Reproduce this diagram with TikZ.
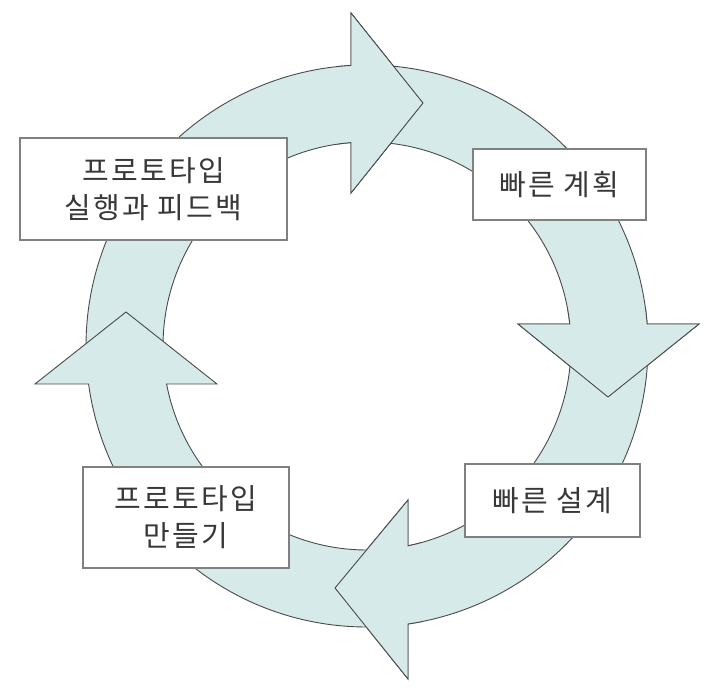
\documentclass[tikz,border=0pt]{standalone}
\usepackage{fontspec}
\newfontfamily\kr[LetterSpace=8]{Noto Sans CJK KR}
\definecolor{ringfill}{HTML}{D6EAEA}
\definecolor{ringline}{HTML}{4A4A4A}
\definecolor{boxline}{HTML}{808080}
\definecolor{txt}{HTML}{383838}
\newcommand\arrowA{(185:281pt) arc[start angle=185, end angle=93.26, radius=281pt] -- (-16,333) -- (56,243) -- (-16,153) -- (-16,203.4) arc[start angle=94.5, end angle=185, radius=204pt] -- cycle}
\newcommand\arrowB{(89:281pt) arc[start angle=89, end angle=4.49, radius=281pt] -- (332,22) -- (241,-51) -- (151,22) -- (202.8,22) arc[start angle=6.19, end angle=89, radius=204pt] -- cycle}
\newcommand\arrowC{(0:281pt) arc[start angle=0, end angle=-81.61, radius=281pt] -- (41,-333) -- (-32,-242) -- (41,-154) -- (41,-199.8) arc[start angle=-78.40, end angle=0, radius=204pt] -- cycle}
\newcommand\arrowD{(-87:281pt) arc[start angle=-87, end angle=-172.23, radius=281pt] -- (-332,-38) -- (-241,34) -- (-150,-38) -- (-200.4,-38) arc[start angle=-169.26, end angle=-87, radius=204pt] -- cycle}
\begin{document}
\begin{tikzpicture}[x=1pt,y=1pt,
  ring/.style={fill=ringfill, draw=ringline, line width=0.9pt, line join=miter},
  labelbox/.style={draw=boxline, fill=white, line width=1.3pt, text=txt,
    font=\kr\fontsize{29}{37}\selectfont, align=center, inner sep=0pt}]
\useasboundingbox (0,0) rectangle (712,696);
\begin{scope}[shift={(367,350)}]
  \draw[ring] \arrowA;
  \draw[ring] \arrowB;
  \draw[ring] \arrowC;
  \draw[ring] \arrowD;
  \begin{scope}
    \clip (-30,140) rectangle (72,347);
    \draw[ring] \arrowA;
  \end{scope}
  \begin{scope}
    \clip (140,-62) rectangle (346,36);
    \draw[ring] \arrowB;
  \end{scope}
  \begin{scope}
    \clip (-46,-347) rectangle (55,-140);
    \draw[ring] \arrowC;
  \end{scope}
\end{scope}
\node[labelbox, minimum width=173pt, minimum height=71pt] (plan) at (559.5,511.5) {빠른 계획};
\node[labelbox, minimum width=175pt, minimum height=73pt] (design) at (552.5,195.5) {빠른 설계};
\node[labelbox, minimum width=206pt, minimum height=101pt] (build) at (186,178.5) {프로토타입\\만들기};
\node[labelbox, minimum width=267pt, minimum height=102pt] (run) at (153.5,507) {프로토타입\\실행과 피드백};
\end{tikzpicture}
\end{document}
